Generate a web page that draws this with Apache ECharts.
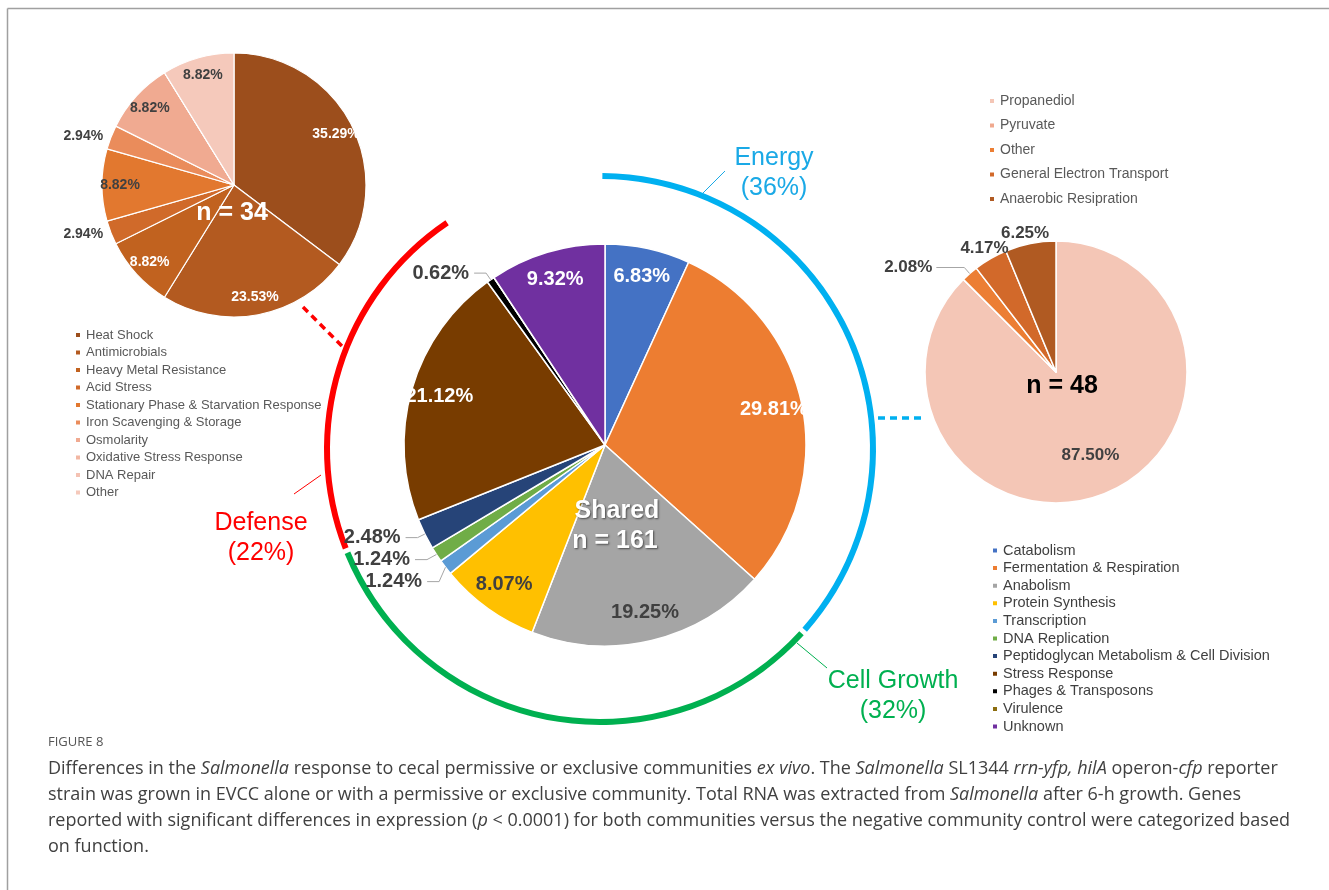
<!DOCTYPE html>
<html><head><meta charset="utf-8">
<script src="https://cdn.jsdelivr.net/npm/echarts@6/dist/echarts.min.js"></script>
<style>html,body{margin:0;padding:0;background:#fff}#c{width:1329px;height:890px}</style>
</head><body><div id="c"></div>
<script>
// ---------------- DATA ----------------
const sharedCategories = ['Catabolism','Fermentation & Respiration','Anabolism','Protein Synthesis','Transcription','DNA Replication','Peptidoglycan Metabolism & Cell Division','Stress Response','Phages & Transposons','Virulence','Unknown'];
const sharedValues = [6.83, 29.81, 19.25, 8.07, 1.24, 1.24, 2.48, 21.12, 0.62, 0, 9.32];
const sharedCount = 161;

const defenseCategories = ['Heat Shock','Antimicrobials','Heavy Metal Resistance','Acid Stress','Stationary Phase & Starvation Response','Iron Scavenging & Storage','Osmolarity','Oxidative Stress Response','DNA Repair','Other'];
const defenseValues = [35.29, 23.53, 8.82, 2.94, 8.82, 2.94, 8.82, 0, 0, 8.82];
const defenseCount = 34;

const energyCategories = ['Propanediol','Pyruvate','Other ','General Electron Transport','Anaerobic Resipration'];
const energyValues = [87.50, 0, 2.08, 4.17, 6.25];
const energyCount = 48;

const groupNames = ['Energy','Cell Growth','Defense'];
const groupPercents = [36, 32, 22];
const groupMembers = [[0,1],[2,3,4,5,6],[7,8,9]];

// ---------------- STYLE ----------------
const sharedColors = ['#4472C4','#ED7D31','#A5A5A5','#FFC000','#5B9BD5','#70AD47','#264478','#783C00','#000000','#8C6D0F','#7030A0'];
const sharedLabelColors = ['#fff','#fff','#404040','#404040','#404040','#404040','#404040','#fff','#404040','#404040','#fff'];
const defenseColors = ['#9C4E1C','#B35A20','#C1621F','#D06A2A','#E2782F','#EA8C5B','#F0AA91','#F2B7A3','#F4C2B3','#F5C9BB'];
const defenseLabelColors = ['#fff','#fff','#fff','#404040','#404040','#404040','#404040','#404040','#404040','#404040'];
const energyColors = ['#F4C6B6','#F0A98E','#EC7E34','#D2692A','#B05A22'];
const energyLabelColors = ['#404040','#404040','#404040','#404040','#404040'];
const groupColors = ['#00B0F0','#00B050','#FF0000'];
const groupTextColors = ['#1AA9E6','#00B050','#FF0000'];
const FONT = '"Liberation Sans", Arial, sans-serif';
const CAP_FONT = '"Open Sans", sans-serif';

const fmt = p => p.value.toFixed(2) + '%';

function visualData(names, values, colors) {
  return names.map((n, i) => ({ name: n, value: values[i], itemStyle: { color: colors[i] } }));
}
// labels of one "band": which(v) -> 'inside' | 'outside' | null
function labelData(names, values, labelColors, which, lineFor) {
  return names.map((n, i) => {
    const v = values[i];
    const pos = v > 0 ? which(v) : null;
    return {
      name: n, value: v,
      itemStyle: { color: 'transparent', borderWidth: 0 },
      label: { show: !!pos, position: pos || 'inside', color: labelColors[i] },
      labelLine: { show: pos === 'outside' && lineFor(v) }
    };
  });
}

const ringData = groupNames.map((g, k) => ({
  name: g,
  value: groupMembers[k].reduce((s, idx) => s + sharedValues[idx], 0),
  itemStyle: { color: groupColors[k] }
}));
const used = new Set(groupMembers.flat());
ringData.push({ name: 'gap', value: sharedValues.reduce((s, v, i) => used.has(i) ? s : s + v, 0), itemStyle: { color: 'transparent' } });

const chart = echarts.init(document.getElementById('c'), null, { renderer: 'canvas' });

const legendBase = {
  orient: 'vertical', icon: 'rect', selectedMode: false, itemGap: 3.5, itemWidth: 6, itemHeight: 6,
  textStyle: { fontFamily: FONT, color: '#595959', fontSize: 13, lineHeight: 14 }
};

const captionRich = {
  i: { fontFamily: CAP_FONT, fontSize: 18, fontStyle: 'italic', fill: '#404040', color: '#404040' }
};
const captionLines = [
  'Differences in the {i|Salmonella} response to cecal permissive or exclusive communities {i|ex vivo}. The {i|Salmonella} SL1344 {i|rrn-yfp, hilA} operon-{i|cfp} reporter',
  'strain was grown in EVCC alone or with a permissive or exclusive community. Total RNA was extracted from {i|Salmonella} after 6-h growth. Genes',
  'reported with significant differences in expression ({i|p} < 0.0001) for both communities versus the negative community control were categorized based',
  'on function.'
];

function groupLabel(k, x, y) {
  return {
    type: 'text', x: x, y: y, z: 50,
    style: { text: groupNames[k] + '\n(' + groupPercents[k] + '%)', fill: groupTextColors[k],
      font: '25px ' + FONT, align: 'center', verticalAlign: 'middle', lineHeight: 30 }
  };
}
function line(x1, y1, x2, y2, color, w, dash) {
  return { type: 'line', z: 40, shape: { x1, y1, x2, y2 }, style: { stroke: color, lineWidth: w, lineDash: dash || null } };
}
const labelSeriesBase = { type: 'pie', startAngle: 90, clockwise: true, z: 5, silent: true, emphasis: { disabled: true } };
const energyLabelFont = { formatter: fmt, fontFamily: FONT, fontWeight: 'bold', fontSize: 17 };

const option = {
  backgroundColor: '#fff',
  animation: false,
  legend: [
    Object.assign({}, legendBase, { data: defenseCategories, left: 69, top: 323 }),
    Object.assign({}, legendBase, { data: energyCategories, left: 983, top: 89, itemGap: 10.5,
      textStyle: { fontFamily: FONT, color: '#595959', fontSize: 14, lineHeight: 14 } }),
    Object.assign({}, legendBase, { data: sharedCategories, left: 986, top: 538, itemGap: 2.6,
      textStyle: { fontFamily: FONT, color: '#404040', fontSize: 14.5, lineHeight: 14 } })
  ],
  series: [
    // Shared main pie
    { type: 'pie', center: [605, 445], radius: 201, startAngle: 90, clockwise: true, z: 2,
      itemStyle: { borderColor: '#fff', borderWidth: 1.5 }, label: { show: false }, labelLine: { show: false },
      emphasis: { disabled: true }, silent: true,
      data: visualData(sharedCategories, sharedValues, sharedColors) },
    Object.assign({}, labelSeriesBase, { center: [605, 445], radius: [138, 201], avoidLabelOverlap: true,
      label: { formatter: fmt, fontFamily: FONT, fontWeight: 'bold', fontSize: 20 },
      labelLine: { length: 8, length2: 12, lineStyle: { color: '#A6A6A6', width: 1 } },
      data: labelData(sharedCategories, sharedValues, sharedLabelColors, v => v < 3 ? 'outside' : 'inside', v => true) }),
    // ring
    { type: 'pie', center: [600, 449], radius: [270, 276], startAngle: 90, clockwise: true, padAngle: 1, silent: true,
      label: { show: false }, labelLine: { show: false }, emphasis: { disabled: true }, itemStyle: { borderWidth: 0 },
      data: ringData },
    // Defense pie
    { type: 'pie', center: [234, 185], radius: 132, startAngle: 90, clockwise: true, z: 2, silent: true,
      itemStyle: { borderColor: '#fff', borderWidth: 1.2 }, label: { show: false }, labelLine: { show: false },
      emphasis: { disabled: true },
      data: visualData(defenseCategories, defenseValues, defenseColors) },
    Object.assign({}, labelSeriesBase, { center: [234, 185], radius: [90, 132], avoidLabelOverlap: false,
      label: { formatter: fmt, fontFamily: FONT, fontWeight: 'bold', fontSize: 14, distanceToLabelLine: 2 },
      labelLine: { length: 3, length2: 3 },
      data: labelData(defenseCategories, defenseValues, defenseLabelColors, v => v < 3 ? 'outside' : 'inside', v => false) }),
    // Energy pie
    { type: 'pie', center: [1056, 372], radius: 131, startAngle: 90, clockwise: true, z: 2, silent: true,
      itemStyle: { borderColor: '#fff', borderWidth: 1.5 }, label: { show: false }, labelLine: { show: false },
      emphasis: { disabled: true },
      data: visualData(energyCategories, energyValues, energyColors) },
    // big slice label (inside)
    Object.assign({}, labelSeriesBase, { center: [1056, 372], radius: [43, 131], avoidLabelOverlap: false,
      label: energyLabelFont,
      data: labelData(energyCategories, energyValues, energyLabelColors, v => v >= 10 ? 'inside' : null, v => false) }),
    // medium slices: just above their slice, centred
    Object.assign({}, labelSeriesBase, { center: [1056, 372], radius: 131, avoidLabelOverlap: false,
      label: Object.assign({ distanceToLabelLine: 5 }, energyLabelFont),
      labelLine: { length: 2, length2: 0 },
      labelLayout: () => ({ align: 'center', verticalAlign: 'bottom' }),
      data: labelData(energyCategories, energyValues, energyLabelColors, v => (v >= 3 && v < 10) ? 'outside' : null, v => false) }),
    // tiny slices: with leader line
    Object.assign({}, labelSeriesBase, { center: [1056, 372], radius: 131, avoidLabelOverlap: false,
      label: Object.assign({ distanceToLabelLine: 4 }, energyLabelFont),
      labelLine: { length: 8, length2: 28, lineStyle: { color: '#A6A6A6', width: 1 } },
      data: labelData(energyCategories, energyValues, energyLabelColors, v => v < 3 ? 'outside' : null, v => true) })
  ],
  graphic: [
    // frame
    line(7.5, 8.5, 1329, 8.5, '#A0A0A0', 1.5),
    line(7.5, 8.5, 7.5, 890, '#A0A0A0', 1.5),
    // centre labels
    { type: 'text', x: 617, y: 511, z: 60, style: { text: 'Shared', font: 'bold 25px ' + FONT, fill: '#fff', align: 'center', verticalAlign: 'middle',
      textShadowColor: 'rgba(0,0,0,0.55)', textShadowBlur: 2, textShadowOffsetX: 1, textShadowOffsetY: 1 } },
    { type: 'text', x: 615, y: 541, z: 60, style: { text: 'n = ' + sharedCount, font: 'bold 25px ' + FONT, fill: '#fff', align: 'center', verticalAlign: 'middle',
      textShadowColor: 'rgba(0,0,0,0.55)', textShadowBlur: 2, textShadowOffsetX: 1, textShadowOffsetY: 1 } },
    { type: 'text', x: 232, y: 213, z: 60, style: { text: 'n = ' + defenseCount, font: 'bold 25px ' + FONT, fill: '#fff', align: 'center', verticalAlign: 'middle' } },
    { type: 'text', x: 1062, y: 386, z: 60, style: { text: 'n = ' + energyCount, font: 'bold 25px ' + FONT, fill: '#000', align: 'center', verticalAlign: 'middle' } },
    // group labels & leaders
    groupLabel(0, 774, 173),
    groupLabel(1, 893, 696),
    groupLabel(2, 261, 538),
    line(703, 193, 725, 171, '#1AA9E6', 1),
    line(797, 643, 827, 668, '#00B050', 1),
    line(321, 475, 294, 494, '#FF0000', 1),
    // connectors
    line(303, 307, 343, 347, '#FF0000', 3.5, [7, 5]),
    line(878, 418, 925, 418, '#00B0F0', 3.5, [7, 5]),
    // caption
    { type: 'text', x: 48, y: 742, style: { text: 'FIGURE 8', font: '13px ' + CAP_FONT, fill: '#555', verticalAlign: 'middle' } }
  ].concat(captionLines.map((t, k) => ({
    type: 'text', x: 48, y: 769 + k * 26,
    style: { text: t, fontFamily: CAP_FONT, fontSize: 18, fill: '#404040', verticalAlign: 'middle', rich: captionRich }
  })))
};
chart.setOption(option);
</script></body></html>
